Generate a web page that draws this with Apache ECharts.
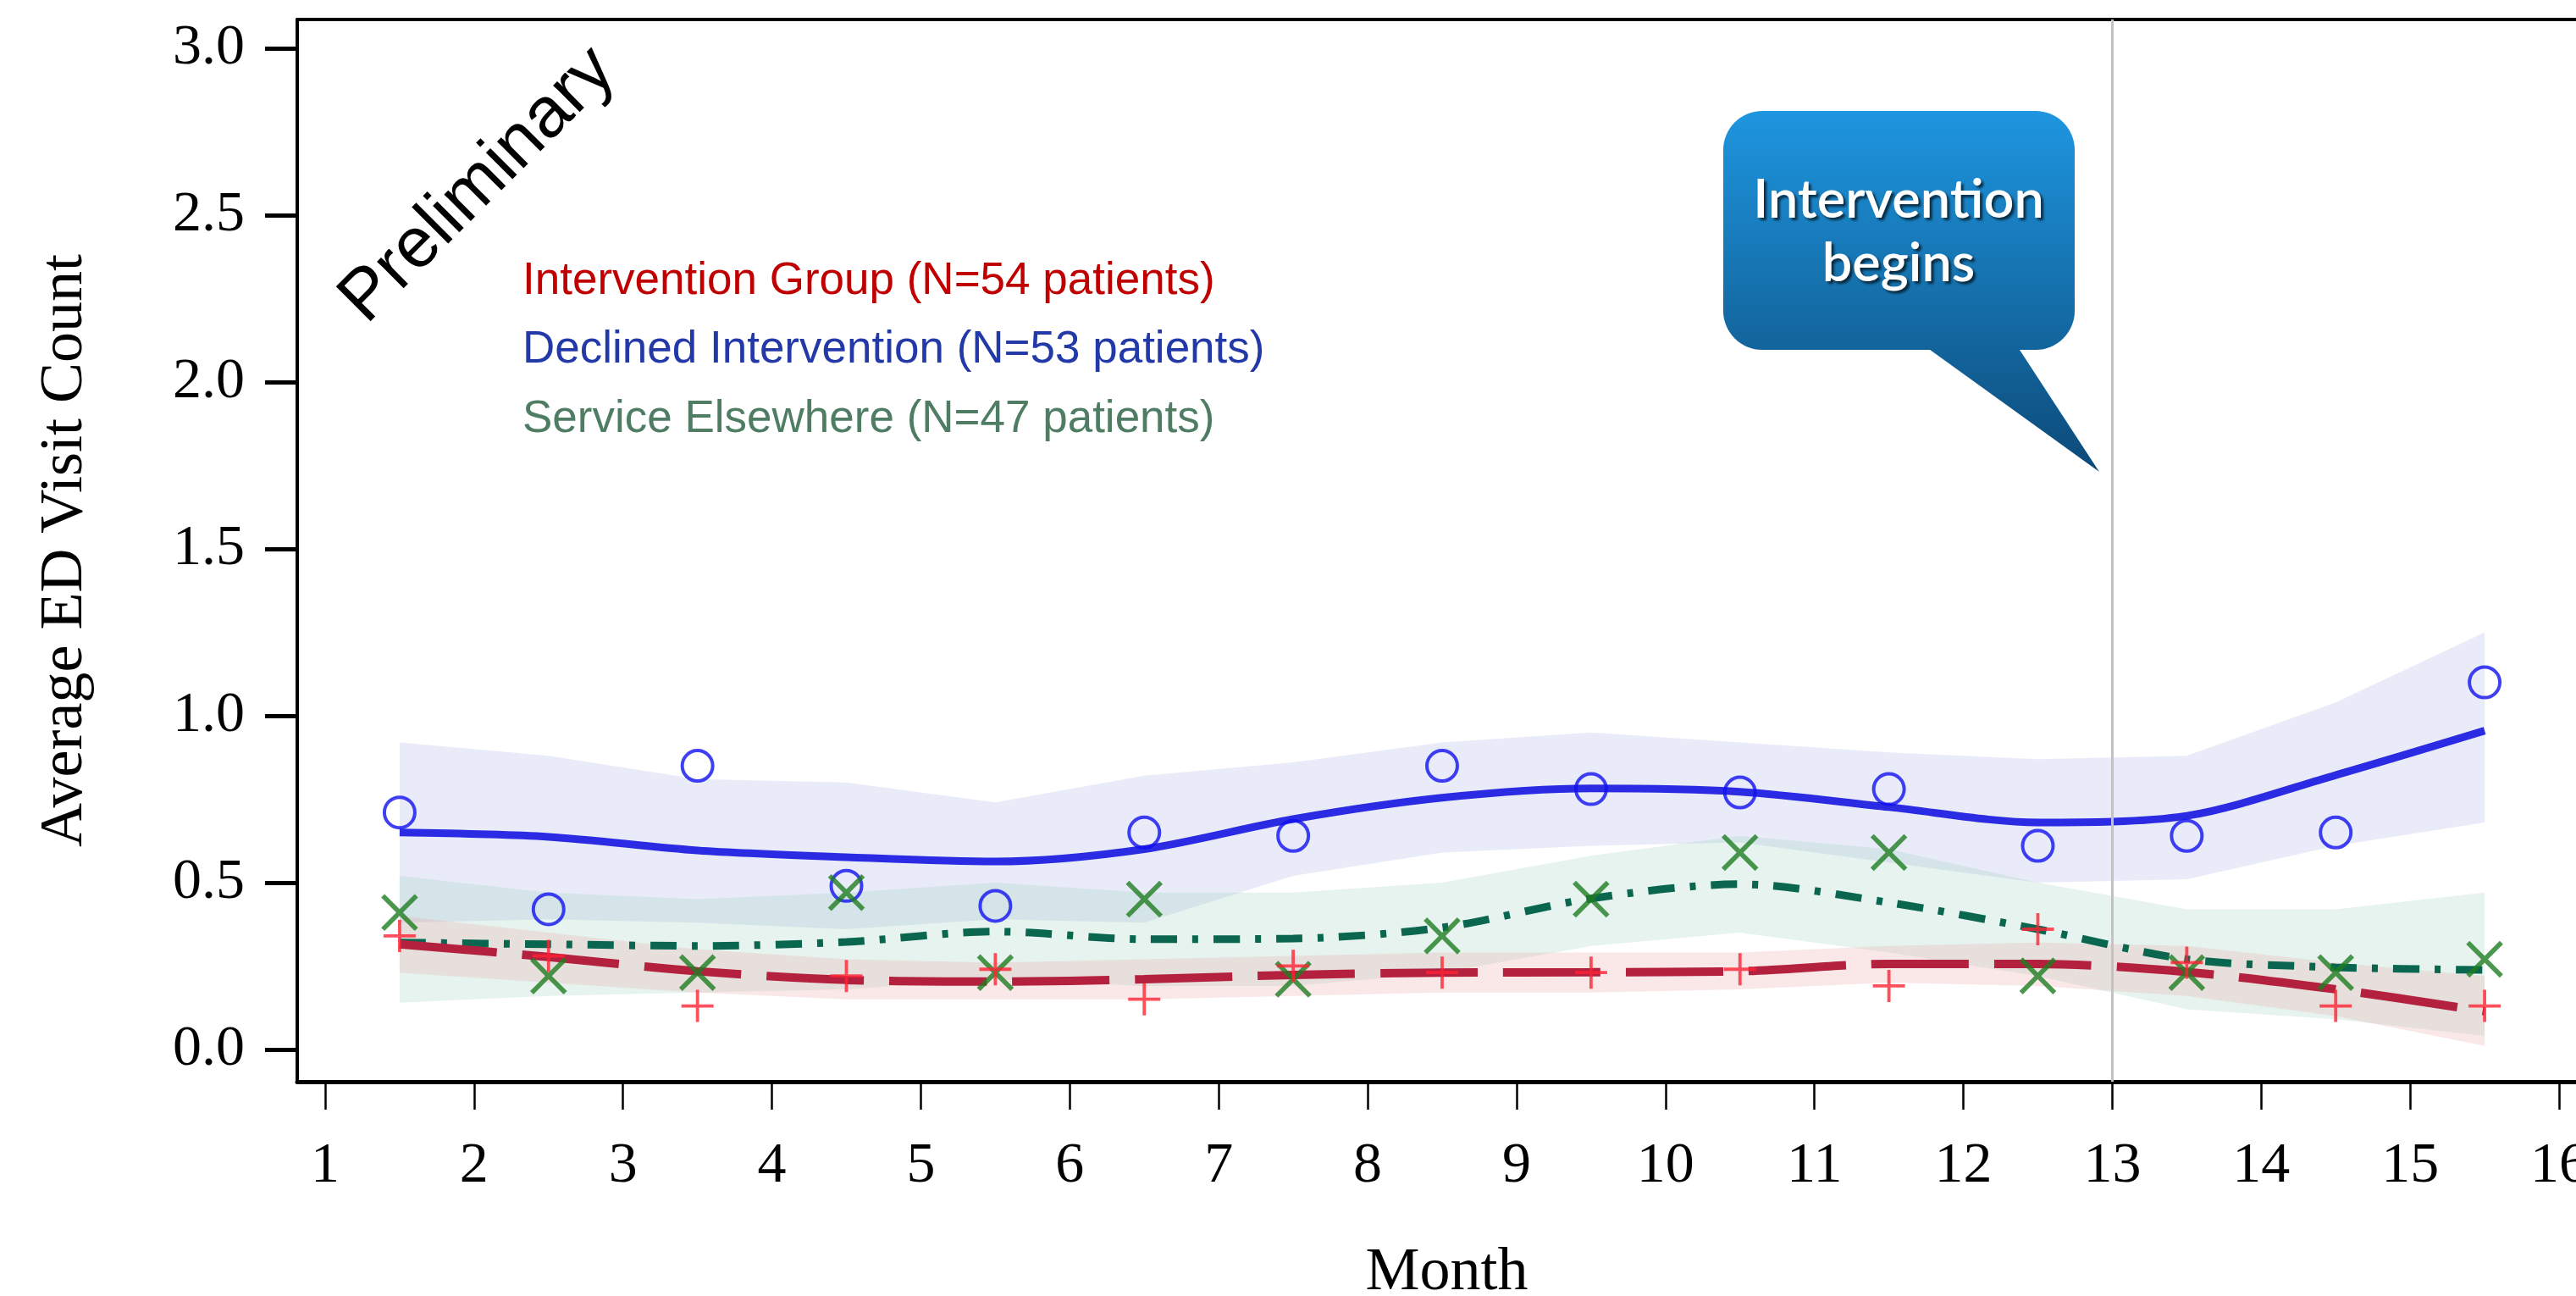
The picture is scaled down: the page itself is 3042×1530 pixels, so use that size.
<!DOCTYPE html>
<html>
<head>
<meta charset="utf-8">
<script src="https://cdn.jsdelivr.net/npm/echarts@6/dist/echarts.min.js"></script>
<style>
html,body{margin:0;padding:0;background:#fff;}
#chart{width:3042px;height:1530px;}
</style>
</head>
<body>
<div id="chart"></div>
<script>
// ---- data ----
const months = [1.5, 2.5, 3.5, 4.5, 5.5, 6.5, 7.5, 8.5, 9.5, 10.5, 11.5, 12.5, 13.5, 14.5, 15.5];
const xTickValues = [1, 2, 3, 4, 5, 6, 7, 8, 9, 10, 11, 12, 13, 14, 15, 16];
const yTickValues = [0, 0.5, 1.0, 1.5, 2.0, 2.5, 3.0];
const interventionStart = 13;

// Intervention Group (red +, long-dash fit)
const interventionObs = [0.34, 0.28, 0.13, 0.22, 0.24, 0.15, 0.25, 0.23, 0.23, 0.24, 0.19, 0.36, 0.26, 0.13, 0.13];
const interventionFit = [0.315, 0.277, 0.234, 0.208, 0.203, 0.21, 0.223, 0.23, 0.231, 0.234, 0.256, 0.256, 0.232, 0.18, 0.114];
const interventionUpper = [0.40, 0.35, 0.30, 0.27, 0.26, 0.27, 0.28, 0.29, 0.29, 0.29, 0.31, 0.32, 0.31, 0.26, 0.22];
const interventionLower = [0.23, 0.20, 0.17, 0.15, 0.15, 0.15, 0.16, 0.17, 0.17, 0.18, 0.20, 0.19, 0.16, 0.10, 0.01];

// Declined Intervention (blue circles, solid fit)
const declinedObs = [0.71, 0.42, 0.85, 0.49, 0.43, 0.65, 0.64, 0.85, 0.78, 0.77, 0.78, 0.61, 0.64, 0.65, 1.10];
const declinedFit = [0.65, 0.637, 0.596, 0.576, 0.563, 0.60, 0.69, 0.754, 0.782, 0.772, 0.726, 0.68, 0.70, 0.822, 0.955];
const declinedUpper = [0.92, 0.88, 0.81, 0.80, 0.74, 0.82, 0.86, 0.92, 0.95, 0.92, 0.89, 0.87, 0.88, 1.04, 1.25];
const declinedLower = [0.38, 0.39, 0.38, 0.36, 0.39, 0.38, 0.52, 0.59, 0.61, 0.62, 0.56, 0.50, 0.51, 0.61, 0.68];

// Service Elsewhere (green x, dash-dot fit)
const serviceObs = [0.41, 0.22, 0.23, 0.47, 0.23, 0.45, 0.21, 0.34, 0.45, 0.59, 0.59, 0.22, 0.23, 0.23, 0.27];
const serviceFit = [0.32, 0.315, 0.31, 0.322, 0.353, 0.33, 0.332, 0.365, 0.452, 0.495, 0.44, 0.36, 0.27, 0.246, 0.238];
const serviceUpper = [0.52, 0.47, 0.45, 0.47, 0.50, 0.47, 0.47, 0.50, 0.58, 0.64, 0.60, 0.50, 0.42, 0.42, 0.47];
const serviceLower = [0.14, 0.16, 0.17, 0.18, 0.21, 0.19, 0.19, 0.23, 0.31, 0.35, 0.29, 0.22, 0.12, 0.09, 0.04];

const legendLines = [
  'Intervention Group (N=54 patients)',
  'Declined Intervention (N=53 patients)',
  'Service Elsewhere (N=47 patients)'
];
const watermark = 'Preliminary';
const calloutLines = ['Intervention', 'begins'];

// ---- chart ----
const chart = echarts.init(document.getElementById('chart'), null, {renderer: 'canvas'});

function pairs(ys) { return months.map((m, i) => [m, ys[i]]); }

function band(upper, lower, fill) {
  return {
    type: 'custom',
    silent: true,
    z: 1,
    clip: true,
    data: [[months[0], lower[0]]],
    renderItem: function (params, api) {
      if (params.dataIndex !== 0) return null;
      const pts = [];
      for (let i = 0; i < months.length; i++) pts.push(api.coord([months[i], upper[i]]));
      for (let i = months.length - 1; i >= 0; i--) pts.push(api.coord([months[i], lower[i]]));
      return {type: 'polygon', shape: {points: pts}, style: {fill: fill}};
    }
  };
}

const plusPath = 'path://M45,0H55V45H100V55H55V100H45V55H0V45H45Z';
const serif = '"Liberation Serif", "Times New Roman", serif';
const sans = '"Liberation Sans", Arial, sans-serif';

const XMIN = 0.8125, XMAX = 16.25, YMIN = -0.097, YMAX = 3.087;

function calloutGradient() {
  return new echarts.graphic.LinearGradient(0, 131, 0, 557, [
    {offset: 0, color: '#1e96e0'}, {offset: 1, color: '#0c4a78'}], true);
}
const calloutFont = '600 63px Lato, "Open Sans", sans-serif';

const option = {
  backgroundColor: '#ffffff',
  animation: false,
  grid: {left: 351, right: -24, top: 23, bottom: 253, containLabel: false, outerBoundsMode: 'none'},
  xAxis: [{
    type: 'value', min: XMIN, max: XMAX, position: 'bottom',
    name: 'Month', nameLocation: 'middle', nameGap: 190,
    nameTextStyle: {fontFamily: serif, fontSize: 72, color: '#000'},
    axisLine: {show: true, onZero: false, lineStyle: {color: '#000', width: 5}},
    axisTick: {show: true, length: 33, customValues: xTickValues, lineStyle: {color: '#000', width: 2.5}},
    axisLabel: {show: true, customValues: xTickValues, margin: 66, fontFamily: serif, fontSize: 68, color: '#000', hideOverlap: false, showMinLabel: true, showMaxLabel: true},
    splitLine: {show: false}
  }, {
    type: 'value', min: XMIN, max: XMAX, position: 'top',
    axisLine: {show: true, onZero: false, lineStyle: {color: '#000', width: 4}},
    axisTick: {show: false}, axisLabel: {show: false}, splitLine: {show: false}
  }],
  yAxis: {
    type: 'value', min: YMIN, max: YMAX,
    name: 'Average ED Visit Count', nameLocation: 'middle', nameGap: 238, nameRotate: 90,
    nameTextStyle: {fontFamily: serif, fontSize: 72, color: '#000'},
    axisLine: {show: true, onZero: false, lineStyle: {color: '#000', width: 4}},
    axisTick: {show: true, length: 38, customValues: yTickValues, lineStyle: {color: '#000', width: 5}},
    axisLabel: {show: true, customValues: yTickValues, margin: 62, fontFamily: serif, fontSize: 68, color: '#000',
      formatter: v => Number(v).toFixed(1)},
    splitLine: {show: false}
  },
  series: [
    band(declinedUpper, declinedLower, 'rgba(170,180,228,0.26)'),
    band(serviceUpper, serviceLower, 'rgba(150,205,182,0.24)'),
    band(interventionUpper, interventionLower, 'rgba(236,160,160,0.24)'),
    {
      type: 'line', data: [], z: 2, silent: true,
      markLine: {
        silent: true, symbol: ['none', 'none'], label: {show: false},
        lineStyle: {color: '#c2c2c2', width: 3, type: 'solid'},
        data: [{xAxis: interventionStart}]
      }
    },
    {
      type: 'line', data: pairs(declinedFit), smooth: 0.3, showSymbol: false, z: 3, silent: true,
      lineStyle: {color: '#2b2be3', width: 9}
    },
    {
      type: 'line', data: pairs(serviceFit), smooth: 0.3, showSymbol: false, z: 3, silent: true,
      lineStyle: {color: '#0b6650', width: 9, type: [31, 18, 7, 18], cap: 'butt'}
    },
    {
      type: 'line', data: pairs(interventionFit), smooth: 0.3, showSymbol: false, z: 3, silent: true,
      lineStyle: {color: '#b3213f', width: 10, type: [115, 30], cap: 'butt'}
    },
    {
      type: 'scatter', data: pairs(declinedObs), symbol: 'circle', symbolSize: 36, z: 4, silent: true,
      itemStyle: {color: 'rgba(0,0,0,0)', borderColor: '#1010f0', borderWidth: 4}
    },
    {
      type: 'scatter', data: pairs(serviceObs), symbol: plusPath, symbolSize: 56, symbolRotate: 45, z: 4, silent: true,
      itemStyle: {color: '#1f7d22'}
    },
    {
      type: 'scatter', data: pairs(interventionObs), symbol: plusPath, symbolSize: 38, z: 4, silent: true,
      itemStyle: {color: '#ff2233'}
    }
  ],
  graphic: [
    {
      type: 'text', x: 565, y: 219, rotation: 45 * Math.PI / 180, z: 10,
      style: {text: watermark, x: 0, y: 0, align: 'center', verticalAlign: 'middle',
        font: '84px ' + sans, fill: '#000'}
    },
    {type: 'text', x: 617, y: 332, z: 10,
      style: {text: legendLines[0], align: 'left', verticalAlign: 'middle', font: '53px ' + sans, fill: '#c00000'}},
    {type: 'text', x: 617, y: 413, z: 10,
      style: {text: legendLines[1], align: 'left', verticalAlign: 'middle', font: '53px ' + sans, fill: '#2339a8'}},
    {type: 'text', x: 617, y: 495, z: 10,
      style: {text: legendLines[2], align: 'left', verticalAlign: 'middle', font: '53px ' + sans, fill: '#4e7d63'}},
    {
      type: 'group', z: 10,
      children: [
        {type: 'rect', shape: {x: 2035, y: 131, width: 415, height: 282, r: 46},
          style: {fill: calloutGradient()}},
        {type: 'polygon', shape: {points: [[2275, 410], [2383, 410], [2479, 557]]},
          style: {fill: calloutGradient()}},
        {type: 'text', x: 2242, y: 237,
          style: {text: calloutLines[0], align: 'center', verticalAlign: 'middle',
            font: calloutFont, fill: '#ffffff',
            textShadowColor: 'rgba(0,0,0,0.65)', textShadowBlur: 3, textShadowOffsetX: 3, textShadowOffsetY: 3}},
        {type: 'text', x: 2242, y: 312,
          style: {text: calloutLines[1], align: 'center', verticalAlign: 'middle',
            font: calloutFont, fill: '#ffffff',
            textShadowColor: 'rgba(0,0,0,0.65)', textShadowBlur: 3, textShadowOffsetX: 3, textShadowOffsetY: 3}}
      ]
    }
  ]
};
chart.setOption(option);
</script>
</body>
</html>
